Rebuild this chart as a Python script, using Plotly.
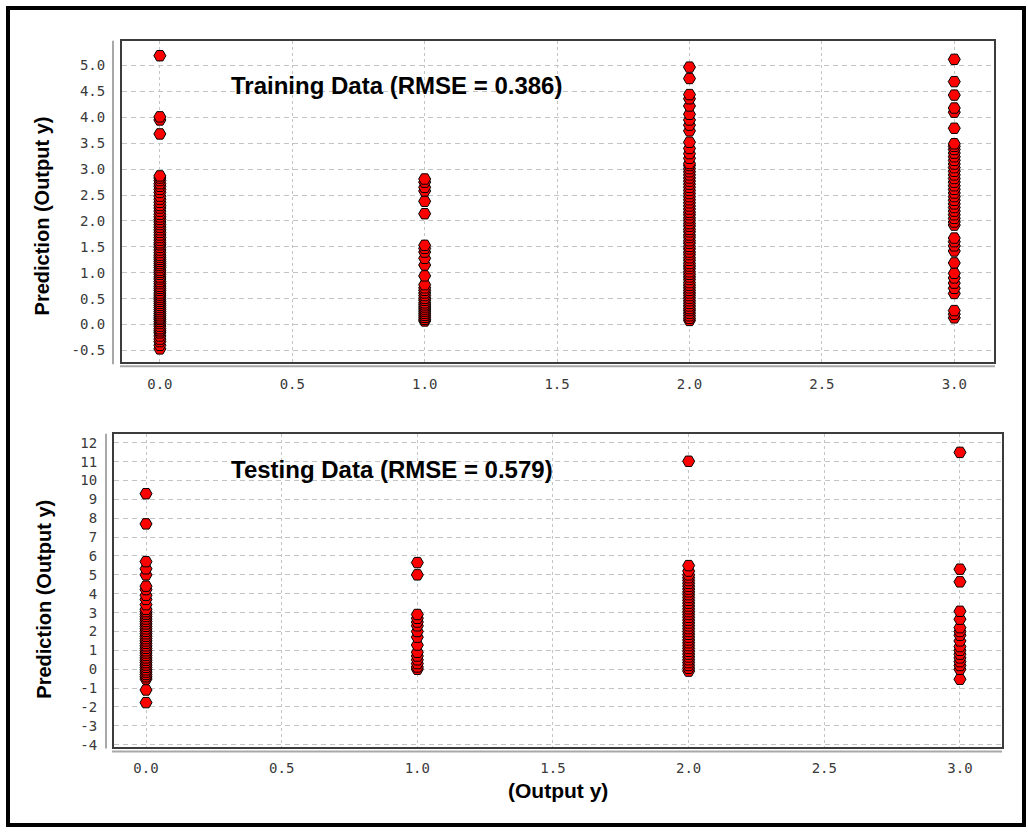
import plotly.graph_objects as go

W, H = 1028, 836

# ---------------- data ----------------
train_x0 = [-0.47, -0.40, -0.33, -0.28, -0.22, -0.16, -0.12, -0.08, -0.03, 0.02, 0.06, 0.10, 0.13, 0.17,
            0.21, 0.25, 0.29, 0.33, 0.37, 0.41, 0.45, 0.49, 0.53, 0.57, 0.61, 0.66, 0.70, 0.74, 0.79, 0.83,
            0.88, 0.92, 0.97, 1.01, 1.05, 1.10, 1.14, 1.18, 1.22, 1.26, 1.30, 1.34, 1.39, 1.44, 1.49, 1.54,
            1.58, 1.63, 1.68, 1.73, 1.78, 1.83, 1.88, 1.93, 1.98, 2.03, 2.08, 2.13, 2.19, 2.25, 2.30, 2.36,
            2.42, 2.48, 2.55, 2.61, 2.67, 2.72, 2.78, 2.83, 2.87, 3.68, 3.95, 4.01, 5.19]
train_x1 = [0.07, 0.10, 0.14, 0.18, 0.22, 0.26, 0.30, 0.34, 0.38, 0.42, 0.47, 0.51, 0.56, 0.61, 0.66,
            0.71, 0.77, 0.94, 1.15, 1.28, 1.40, 1.47, 1.53, 2.14, 2.38, 2.58, 2.65, 2.75, 2.81]
train_x2 = [0.08, 0.12, 0.17, 0.22, 0.27, 0.31, 0.36, 0.41, 0.46, 0.51, 0.56, 0.61, 0.66, 0.71, 0.76,
            0.81, 0.87, 0.92, 0.97, 1.02, 1.08, 1.13, 1.18, 1.24, 1.29, 1.35, 1.40, 1.46, 1.51, 1.57,
            1.62, 1.68, 1.73, 1.79, 1.84, 1.90, 1.95, 2.01, 2.06, 2.12, 2.17, 2.23, 2.29, 2.35, 2.41,
            2.47, 2.53, 2.59, 2.65, 2.71, 2.77, 2.83, 2.89, 2.95, 3.01, 3.07, 3.11, 3.21, 3.30, 3.40,
            3.52, 3.74, 3.85, 3.95, 4.06, 4.22, 4.36, 4.44, 4.75, 4.97]
train_x3 = [0.13, 0.20, 0.27, 0.60, 0.70, 0.80, 0.90, 0.99, 1.19, 1.42, 1.52, 1.60, 1.67, 1.92, 1.98,
            2.05, 2.12, 2.19, 2.26, 2.33, 2.40, 2.47, 2.54, 2.61, 2.68, 2.75, 2.82, 2.89, 2.96, 3.03,
            3.10, 3.17, 3.24, 3.31, 3.38, 3.44, 3.49, 3.79, 4.10, 4.18, 4.43, 4.69, 5.12]

test_x0 = [-1.77, -1.10, -0.52, -0.40, -0.28, -0.15, -0.03, 0.10, 0.22, 0.35, 0.48, 0.60, 0.73, 0.86,
           0.98, 1.11, 1.24, 1.37, 1.50, 1.62, 1.75, 1.88, 2.01, 2.14, 2.27, 2.40, 2.53, 2.66, 2.79,
           2.92, 3.05, 3.18, 3.42, 3.70, 3.92, 4.22, 4.40, 5.00, 5.32, 5.70, 7.70, 9.30]
test_x1 = [0.00, 0.12, 0.30, 0.50, 0.70, 0.90, 1.28, 1.70, 2.00, 2.30, 2.50, 2.70, 2.90, 5.00, 5.65]
test_x2 = [-0.10, 0.05, 0.20, 0.35, 0.50, 0.65, 0.80, 0.95, 1.10, 1.25, 1.40, 1.55, 1.70, 1.85, 2.00,
           2.15, 2.30, 2.45, 2.60, 2.75, 2.90, 3.05, 3.20, 3.35, 3.50, 3.65, 3.80, 3.95, 4.10, 4.25,
           4.40, 4.55, 4.70, 4.85, 5.00, 5.20, 5.49, 11.02]
test_x3 = [-0.53, 0.00, 0.20, 0.40, 0.60, 0.80, 1.00, 1.20, 1.50, 1.80, 2.00, 2.20, 2.65, 3.07, 4.63,
           5.30, 11.49]

output_classes = [0.0, 1.0, 2.0, 3.0]
train_series = [train_x0, train_x1, train_x2, train_x3]
test_series = [test_x0, test_x1, test_x2, test_x3]

x_ticks = [0.0, 0.5, 1.0, 1.5, 2.0, 2.5, 3.0]
top_y_ticks = [-0.5, 0.0, 0.5, 1.0, 1.5, 2.0, 2.5, 3.0, 3.5, 4.0, 4.5, 5.0]
bot_y_ticks = [-4, -3, -2, -1, 0, 1, 2, 3, 4, 5, 6, 7, 8, 9, 10, 11, 12]

train_title = "Training Data (RMSE = 0.386)"
test_title = "Testing Data (RMSE = 0.579)"
y_title = "Prediction (Output y)"
x_title = "(Output y)"

# ---------------- helpers ----------------
def px_x(p):
    return p / W

def px_y(p):
    return 1 - p / H

marker = dict(symbol="hexagon2", size=12, color="#ff0000", line=dict(color="#000000", width=1))

fig = go.Figure()
for cls, vals in zip(output_classes, train_series):
    fig.add_trace(go.Scatter(x=[cls] * len(vals), y=vals, mode="markers", marker=marker,
                             xaxis="x", yaxis="y", showlegend=False, cliponaxis=False))
for cls, vals in zip(output_classes, test_series):
    fig.add_trace(go.Scatter(x=[cls] * len(vals), y=vals, mode="markers", marker=marker,
                             xaxis="x2", yaxis="y2", showlegend=False, cliponaxis=False))

tickfont = dict(family="DejaVu Sans Mono", size=14, color="#3a3a3a")
gridc = "#c4c4c4"

common_x = dict(showgrid=True, gridcolor=gridc, griddash="dot", gridwidth=1, zeroline=False,
                showline=True, mirror=True, linecolor="#3c3c3c", linewidth=2,
                tickmode="array", tickvals=x_ticks, ticktext=[f"{v:.1f}" for v in x_ticks],
                tickfont=tickfont, ticks="", ticklabelstandoff=8)
common_y = dict(showgrid=True, gridcolor=gridc, griddash="5px,4px", gridwidth=1, zeroline=False,
                showline=True, mirror=True, linecolor="#3c3c3c", linewidth=2,
                tickfont=tickfont, ticks="", ticklabelstandoff=12)

# top plot frame: x 122..994, y 41..365 ; bottom: x 114..1002, y 437..752
fig.update_layout(
    width=W, height=H,
    margin=dict(l=0, r=0, t=0, b=0),
    paper_bgcolor="white", plot_bgcolor="white",
    xaxis=dict(domain=[px_x(122), px_x(994)], range=[-0.143, 3.15], anchor="y", **common_x),
    yaxis=dict(domain=[px_y(365), px_y(41)], range=[-0.73, 5.48], anchor="x",
               tickmode="array", tickvals=top_y_ticks, ticktext=[f"{v:.1f}" for v in top_y_ticks],
               **common_y),
    xaxis2=dict(domain=[px_x(114), px_x(1002)], range=[-0.118, 3.155], anchor="y2", **common_x),
    yaxis2=dict(domain=[px_y(752), px_y(437)], range=[-4.1, 12.47], anchor="x2",
                tickmode="array", tickvals=bot_y_ticks, ticktext=[str(v) for v in bot_y_ticks],
                **common_y),
)

shapes = [
    # outer frame
    dict(type="rect", xref="paper", yref="paper", x0=px_x(8), x1=px_x(1024), y0=px_y(831), y1=px_y(8),
         line=dict(color="black", width=4), fillcolor="rgba(0,0,0,0)"),
    # offset axis lines (top)
    dict(type="line", xref="paper", yref="paper", x0=px_x(113), x1=px_x(113), y0=px_y(367), y1=px_y(41),
         line=dict(color="#a8a8a8", width=2)),
    dict(type="line", xref="paper", yref="paper", x0=px_x(120), x1=px_x(995), y0=px_y(369), y1=px_y(369),
         line=dict(color="#a8a8a8", width=2)),
    # offset axis lines (bottom)
    dict(type="line", xref="paper", yref="paper", x0=px_x(106), x1=px_x(106), y0=px_y(754), y1=px_y(437),
         line=dict(color="#a8a8a8", width=2)),
    dict(type="line", xref="paper", yref="paper", x0=px_x(112), x1=px_x(1002), y0=px_y(757), y1=px_y(757),
         line=dict(color="#a8a8a8", width=2)),
]
fig.update_layout(shapes=shapes)

title_font = dict(family="Liberation Sans, Arial, sans-serif", size=24, color="black")
label_font = dict(family="Liberation Sans, Arial, sans-serif", size=20, color="black")
annotations = [
    dict(text=f"<b>{train_title}</b>", xref="paper", yref="paper", x=px_x(229), y=px_y(86),
         xanchor="left", yanchor="middle", showarrow=False, font=title_font),
    dict(text=f"<b>{test_title}</b>", xref="paper", yref="paper", x=px_x(229), y=px_y(473),
         xanchor="left", yanchor="middle", showarrow=False, font=title_font),
    dict(text=f"<b>{y_title}</b>", xref="paper", yref="paper", x=px_x(42), y=px_y(218),
         xanchor="center", yanchor="middle", textangle=-90, showarrow=False, font=label_font),
    dict(text=f"<b>{y_title}</b>", xref="paper", yref="paper", x=px_x(44), y=px_y(604),
         xanchor="center", yanchor="middle", textangle=-90, showarrow=False, font=label_font),
    dict(text=f"<b>{x_title}</b>", xref="paper", yref="paper", x=px_x(558), y=px_y(796),
         xanchor="center", yanchor="middle", showarrow=False,
         font=dict(family="Liberation Sans Narrow, Arial Narrow, Liberation Sans, sans-serif", size=21,
                   color="black")),
]
fig.update_layout(annotations=annotations)

fig.write_html("out.html")
